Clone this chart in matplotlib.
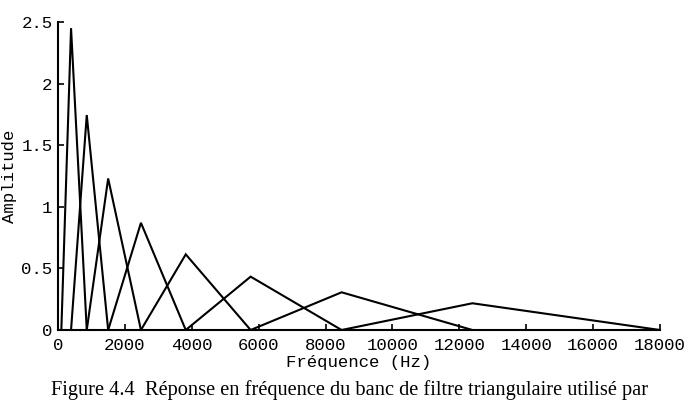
import matplotlib
matplotlib.use('Agg')
import matplotlib.pyplot as plt

# filter band edges / centres (Hz)
centres = [100, 390, 860, 1500, 2480, 3820, 5760, 8480, 12390, 18000]
# peak amplitude of each triangular filter
peaks = [2.45, 1.745, 1.23, 0.87, 0.614, 0.433, 0.306, 0.217]

xticks = [0, 2000, 4000, 6000, 8000, 10000, 12000, 14000, 16000, 18000]
yticks = [0, 0.5, 1, 1.5, 2, 2.5]
yticklabels = ['0', '0.5', '1', '1.5', '2', '2.5']

mono = 'Liberation Mono'

fig = plt.figure(figsize=(6.88, 4.01), dpi=100)
ax = fig.add_axes([58 / 688, 1 - 330 / 401, 602 / 688, 308 / 401])

for k in range(len(peaks)):
    ax.plot([centres[k], centres[k + 1], centres[k + 2]], [0, peaks[k], 0],
            color='black', lw=1.5, solid_joinstyle='miter')

ax.set_xlim(0, 18000)
ax.set_ylim(0, 2.5)
ax.spines['top'].set_visible(False)
ax.spines['right'].set_visible(False)
ax.spines['left'].set_linewidth(1.5)
ax.spines['bottom'].set_linewidth(1.5)

ax.set_xticks(xticks)
ax.set_xticklabels([str(t) for t in xticks], family=mono, fontsize=12.5)
ax.set_yticks(yticks)
ax.set_yticklabels(yticklabels, family=mono, fontsize=12.5)
ax.tick_params(direction='in', length=4, width=1.2)
ax.tick_params(axis='x', pad=6)
ax.tick_params(axis='y', pad=4)

ax.set_xlabel('Fréquence (Hz)', family=mono, fontsize=12.5, labelpad=1)
ax.set_ylabel('Amplitude', family=mono, fontsize=12.5, labelpad=3)

fig.text(51 / 688, 1 - 390 / 401,
         'Figure 4.4  Réponse en fréquence du banc de filtre triangulaire utilisé par',
         family='Liberation Serif', fontsize=14.7, va='center', ha='left')

fig.savefig('out.png', dpi=100)
